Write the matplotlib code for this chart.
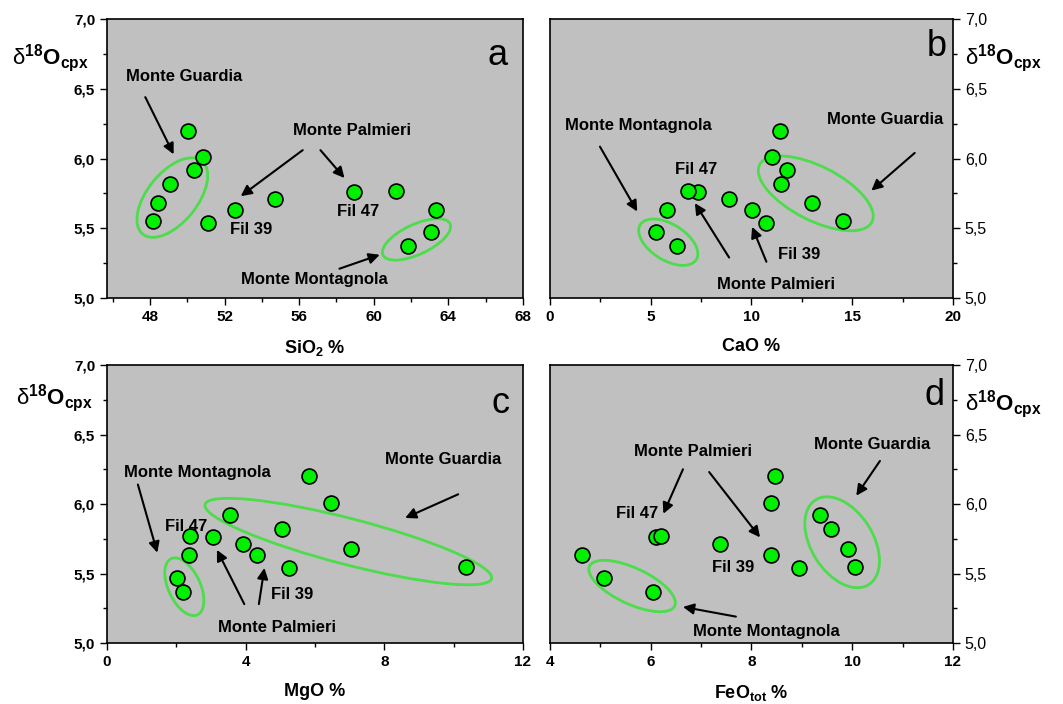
import numpy as np
import matplotlib.pyplot as plt
from matplotlib.patches import Ellipse
from matplotlib.transforms import ScaledTranslation
from matplotlib.ticker import MultipleLocator

plt.rcParams['font.family'] = ['Liberation Sans', 'DejaVu Sans']
plt.rcParams['mathtext.fontset'] = 'custom'
plt.rcParams['mathtext.rm'] = 'Liberation Sans'
plt.rcParams['mathtext.bf'] = 'Liberation Sans:bold'
plt.rcParams['mathtext.it'] = 'Liberation Sans:italic'

# delta18O of clinopyroxene and whole-rock oxides, one entry per sample
d18o = [6.20, 6.01, 5.92, 5.82, 5.68, 5.55, 5.54, 5.63, 5.71, 5.76, 5.77, 5.63, 5.47, 5.37]
sio2 = [50.05, 50.84, 50.36, 49.10, 48.41, 48.16, 51.13, 52.57, 54.73, 58.92, 61.20, 63.35, 63.08, 61.83]
cao = [11.40, 11.02, 11.74, 11.44, 13.00, 14.55, 10.74, 10.03, 8.89, 7.36, 6.86, 5.83, 5.24, 6.31]
mgo = [5.82, 6.47, 3.56, 5.04, 7.03, 10.37, 5.24, 4.32, 3.91, 3.06, 2.40, 2.35, 2.01, 2.20]
feo = [8.47, 8.38, 9.36, 9.57, 9.92, 10.05, 8.94, 8.38, 7.37, 6.10, 6.20, 4.63, 5.07, 6.04]

y_ticks = [5.0, 5.5, 6.0, 6.5, 7.0]
y_tick_labels = ['5,0', '5,5', '6,0', '6,5', '7,0']

grey = '#c0c0c0'
dot_green = '#00f000'
ring_green = '#4cdc4c'


def ring(ax, x, y, w, h, ang):
    # ellipse sized in pixels, centred on a data point
    tr = ax.figure.dpi_scale_trans + ScaledTranslation(x, y, ax.transData)
    ax.add_patch(Ellipse((0, 0), w / 100, h / 100, angle=ang, transform=tr,
                         fill=False, ec=ring_green, lw=2, zorder=2))


def arrow(ax, x0, y0, x1, y1):
    ax.annotate('', xy=(x1, y1), xytext=(x0, y0),
                arrowprops=dict(arrowstyle='-|>', color='black', lw=1.5,
                                mutation_scale=16, shrinkA=0, shrinkB=0))


panels = [
    dict(x=sio2, pos=[0.1007, 0.5767, 0.3913, 0.3963], xlim=(45.7, 68),
         xticks=[48, 52, 56, 60, 64, 68], minor=2, right=False, letter='a',
         letter_xy=(0.94, 0.87), ylab_xy=(-0.137, 0.86),
         xlabel=r'SiO$_\mathbf{2}$ %',
         texts=[('Monte Guardia', 49.81, 6.59), ('Monte Palmieri', 58.84, 6.20),
                ('Fil 39', 53.40, 5.49), ('Fil 47', 59.15, 5.62),
                ('Monte Montagnola', 56.81, 5.13)],
         arrows=[(47.75, 6.44, 49.27, 6.03), (56.19, 6.06, 52.87, 5.73),
                 (57.14, 6.06, 58.43, 5.86), (58.16, 5.21, 60.32, 5.31)],
         rings=[(49.2, 5.72, 94, 50, 51), (62.29, 5.42, 74, 30, 25)]),
    dict(x=cao, pos=[0.5174, 0.5767, 0.3791, 0.3963], xlim=(0, 20),
         xticks=[0, 5, 10, 15, 20], minor=2.5, right=True, letter='b',
         letter_xy=(0.96, 0.90), ylab_xy=(1.124, 0.86),
         xlabel='CaO %',
         texts=[('Monte Montagnola', 4.38, 6.24), ('Fil 47', 7.24, 5.92),
                ('Monte Guardia', 16.61, 6.28), ('Fil 39', 12.36, 5.31),
                ('Monte Palmieri', 11.24, 5.10)],
         arrows=[(2.48, 6.085, 4.33, 5.62), (18.1, 6.04, 15.95, 5.77),
                 (10.74, 5.26, 10.03, 5.51), (8.89, 5.29, 7.19, 5.68)],
         rings=[(5.87, 5.40, 66, 36, -32), (13.19, 5.75, 126, 54, -27)]),
    dict(x=mgo, pos=[0.1007, 0.0866, 0.3913, 0.3949], xlim=(0, 12),
         xticks=[0, 4, 8, 12], minor=2, right=False, letter='c',
         letter_xy=(0.945, 0.863), ylab_xy=(-0.127, 0.88),
         xlabel='MgO %',
         texts=[('Monte Montagnola', 2.61, 6.23), ('Fil 47', 2.27, 5.84),
                ('Monte Guardia', 9.71, 6.32), ('Fil 39', 5.34, 5.35),
                ('Monte Palmieri', 4.91, 5.11)],
         arrows=[(0.89, 6.14, 1.45, 5.65), (10.13, 6.07, 8.60, 5.90),
                 (4.38, 5.28, 4.54, 5.54), (3.96, 5.28, 3.17, 5.67)],
         rings=[(2.23, 5.405, 62, 32, -65), (6.96, 5.73, 296, 46, -14.5)]),
    dict(x=feo, pos=[0.5174, 0.0866, 0.3791, 0.3949], xlim=(4, 12),
         xticks=[4, 6, 8, 10, 12], minor=1, right=True, letter='d',
         letter_xy=(0.955, 0.89), ylab_xy=(1.124, 0.86),
         xlabel=r'FeO$_\mathbf{tot}$ %',
         texts=[('Monte Palmieri', 6.83, 6.38), ('Fil 47', 5.72, 5.93),
                ('Fil 39', 7.64, 5.54), ('Monte Guardia', 10.40, 6.43),
                ('Monte Montagnola', 8.30, 5.08)],
         arrows=[(6.64, 6.25, 6.25, 5.93), (7.16, 6.23, 8.17, 5.76),
                 (10.55, 6.31, 10.08, 6.06), (7.69, 5.19, 6.64, 5.26)],
         rings=[(5.63, 5.41, 94, 36, -25), (9.80, 5.725, 100, 62, -58)]),
]

fig = plt.figure(figsize=(10.63, 7.04), dpi=100)

for p in panels:
    ax = fig.add_axes(p['pos'])
    ax.set_facecolor(grey)
    ax.set_xlim(*p['xlim'])
    ax.set_ylim(5.0, 7.0)
    ax.scatter(p['x'], d18o, s=115, c=dot_green, edgecolors='black',
               linewidths=1.2, zorder=3)
    for r in p['rings']:
        ring(ax, *r)
    for t, tx, ty in p['texts']:
        ax.text(tx, ty, t, ha='center', va='center', fontsize=12,
                fontweight='bold', zorder=4)
    for a in p['arrows']:
        arrow(ax, *a)

    ax.set_xticks(p['xticks'])
    ax.set_xticklabels([str(v) for v in p['xticks']], fontweight='bold')
    ax.xaxis.set_minor_locator(MultipleLocator(p['minor']))
    ax.set_yticks(y_ticks)
    ax.yaxis.set_minor_locator(MultipleLocator(0.25))
    ax.tick_params(which='both', direction='out', labelsize=11, width=1)
    ax.tick_params(which='major', length=5)
    ax.tick_params(which='minor', length=3)
    for s in ax.spines.values():
        s.set_linewidth(1.2)

    if p['right']:
        ax.yaxis.tick_right()
        ax.set_yticklabels(y_tick_labels, fontsize=11.5)
    else:
        ax.set_yticklabels(y_tick_labels, fontweight='bold')
    ylab = r'$\mathrm{δ}^{\mathbf{18}}\mathbf{O}_{\mathbf{cpx}}$'
    ax.text(*p['ylab_xy'], ylab, transform=ax.transAxes, ha='center',
            va='center', fontsize=16)
    ax.text(*p['letter_xy'], p['letter'], transform=ax.transAxes,
            ha='center', va='center', fontsize=26)
    ax.set_xlabel(p['xlabel'], fontsize=13, fontweight='bold', labelpad=10)

fig.savefig('out.png', dpi=100)
